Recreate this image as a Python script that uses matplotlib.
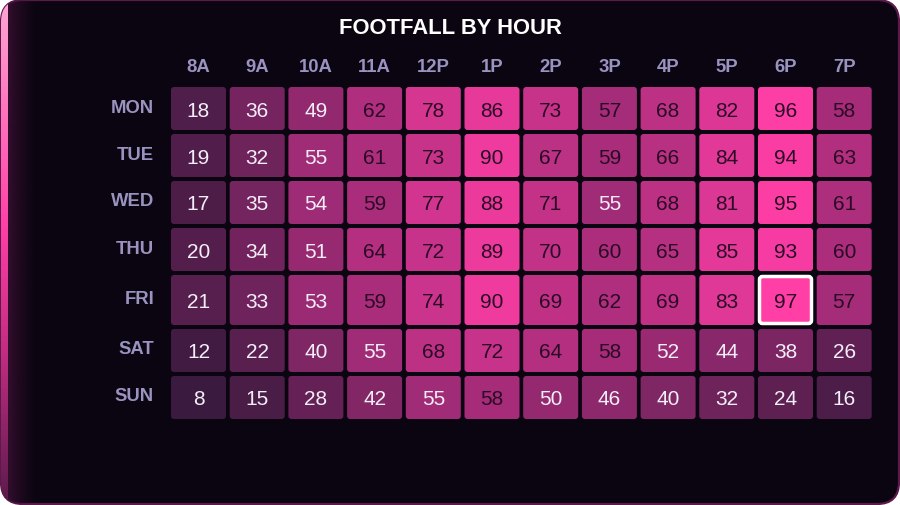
import numpy as np
import matplotlib.pyplot as plt
from matplotlib.patches import FancyBboxPatch
from matplotlib.colors import LinearSegmentedColormap, Normalize, to_rgb

plt.rcParams['font.family'] = ['Liberation Sans', 'DejaVu Sans']

days = ['MON', 'TUE', 'WED', 'THU', 'FRI', 'SAT', 'SUN']
hours = ['8A', '9A', '10A', '11A', '12P', '1P', '2P', '3P', '4P', '5P', '6P', '7P']
footfall = np.array([
    [18, 36, 49, 62, 78, 86, 73, 57, 68, 82, 96, 58],
    [19, 32, 55, 61, 73, 90, 67, 59, 66, 84, 94, 63],
    [17, 35, 54, 59, 77, 88, 71, 55, 68, 81, 95, 61],
    [20, 34, 51, 64, 72, 89, 70, 60, 65, 85, 93, 60],
    [21, 33, 53, 59, 74, 90, 69, 62, 69, 83, 97, 57],
    [12, 22, 40, 55, 68, 72, 64, 58, 52, 44, 38, 26],
    [8, 15, 28, 42, 55, 58, 50, 46, 40, 32, 24, 16],
])
title = 'FOOTFALL BY HOUR'

W, H = 900, 506
bg = '#0a0510'
label_col = '#9a93c0'
cmap = LinearSegmentedColormap.from_list('foot', ['#3a1a3e', '#9a2a73', '#ff3ea6'])
norm = Normalize(footfall.min(), footfall.max())

fig = plt.figure(figsize=(W / 100, H / 100), dpi=100)
fig.patch.set_facecolor('white')
ax = fig.add_axes([0, 0, 1, 1])
ax.set_xlim(0, W)
ax.set_ylim(H, 0)
ax.axis('off')

# card
frame = FancyBboxPatch((1, 1), W - 2, H - 2, boxstyle='round,pad=0,rounding_size=22',
                       facecolor=bg, edgecolor='#5c1a4c', lw=1.6, zorder=0)
ax.add_patch(frame)

# left accent strip + glow
ys = np.linspace(0, 1, 256)[:, None]
strip_cmap = LinearSegmentedColormap.from_list('strip', ['#ffa6d4', '#ff3ea6', '#c02c80', '#5c1a4c'])
strip = strip_cmap(np.interp(ys, [0, 0.45, 0.7, 1], [0, 0.33, 0.66, 1]))
im = ax.imshow(np.repeat(strip, 2, axis=1), extent=(1, 8, H - 1, 1), aspect='auto', zorder=1)
im.set_clip_path(frame)
glow = np.zeros((2, 64, 4))
glow[..., :3] = to_rgb('#3a0f33')
glow[..., 3] = np.linspace(0.9, 0, 64) ** 1.5
im2 = ax.imshow(glow, extent=(8, 40, H - 1, 1), aspect='auto', zorder=1)
im2.set_clip_path(frame)

ax.text(W / 2, 28, title, color='white', fontsize=15.8, fontweight='bold',
        ha='center', va='center')

# grid layout
x0, pitch, cw = 171, 58.7, 55
y0, gap, rh, rh_peak = 88, 4, 43, 50
peak_r, peak_c = np.unravel_index(footfall.argmax(), footfall.shape)

for j, h in enumerate(hours):
    ax.text(x0 + j * pitch + cw / 2, 67, h, color=label_col, fontsize=13.3,
            fontweight='bold', ha='center', va='center')

top = y0
for i, d in enumerate(days):
    h_row = rh_peak if i == peak_r else rh
    cy = top + h_row / 2
    ax.text(154, cy - 1.5, d, color=label_col, fontsize=13.3, fontweight='bold',
            ha='right', va='center')
    for j in range(len(hours)):
        v = footfall[i, j]
        left = x0 + j * pitch
        peak = (i == peak_r and j == peak_c)
        inset = 1.5 if peak else 0
        cell = FancyBboxPatch((left + inset, top + inset), cw - 2 * inset, h_row - 2 * inset,
                              boxstyle='round,pad=0,rounding_size=3',
                              facecolor=cmap(norm(v)),
                              edgecolor='white' if peak else 'none',
                              lw=2.5 if peak else 0, zorder=2)
        ax.add_patch(cell)
        ax.text(left + cw / 2, cy + 1.5, str(v), fontsize=15,
                color='#2a0a25' if v > 55 else '#f4eef8',
                ha='center', va='center', zorder=3)
    top += h_row + gap

fig.savefig('out.png', dpi=100, facecolor=fig.get_facecolor())
